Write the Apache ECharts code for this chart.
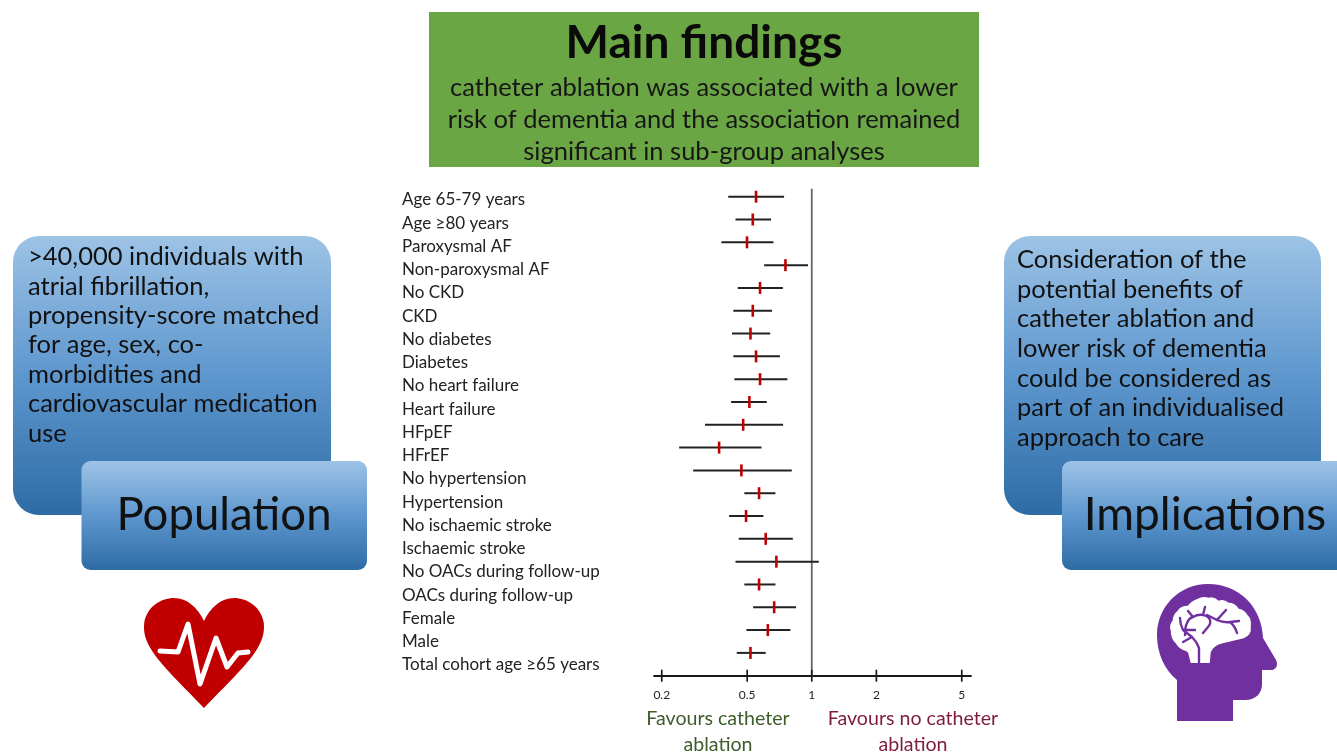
<!DOCTYPE html>
<html><head><meta charset="utf-8">
<style>html,body{margin:0;padding:0;background:#fff}#c{width:1337px;height:752px}</style>
<script src="https://cdn.jsdelivr.net/npm/echarts@6/dist/echarts.min.js"></script>
</head><body><div id="c"></div>
<script>
const categories = ['Age 65-79 years','Age ≥80 years','Paroxysmal AF','Non-paroxysmal AF','No CKD','CKD','No diabetes','Diabetes','No heart failure','Heart failure','HFpEF','HFrEF','No hypertension','Hypertension','No ischaemic stroke','Ischaemic stroke','No OACs during follow-up','OACs during follow-up','Female','Male','Total cohort age ≥65 years'];
const hrLower = [0.408,0.441,0.379,0.600,0.452,0.431,0.425,0.431,0.436,0.421,0.318,0.241,0.280,0.485,0.412,0.457,0.441,0.485,0.533,0.496,0.447];
const hrMid   = [0.550,0.531,0.499,0.754,0.574,0.531,0.518,0.550,0.574,0.512,0.479,0.370,0.470,0.568,0.494,0.610,0.684,0.568,0.668,0.624,0.518];
const hrUpper = [0.743,0.646,0.663,0.961,0.733,0.653,0.640,0.710,0.770,0.617,0.735,0.583,0.807,0.677,0.595,0.816,1.078,0.677,0.845,0.795,0.610];
const tickValues = [0.2,0.5,1,2,5];
const titleText = 'Main findings';
const findingsText = ['catheter ablation was associated with a lower','risk of dementia and the association remained','significant in sub-group analyses'];
const populationText = ['>40,000 individuals with','atrial fibrillation,','propensity-score matched','for age, sex, co-','morbidities and','cardiovascular medication','use'];
const implicationsText = ['Consideration of the','potential benefits of','catheter ablation and','lower risk of dementia','could be considered as','part of an individualised','approach to care'];
const favoursLeft = ['Favours catheter','ablation'];
const favoursRight = ['Favours no catheter','ablation'];

const FONT = 'Lato, "Noto Sans", sans-serif';
const blue = {type:'linear',x:0,y:0,x2:0,y2:1,colorStops:[{offset:0,color:'#9DC3E6'},{offset:0.5,color:'#5E97CE'},{offset:1,color:'#2E6BA5'}]};
const txt = (x,y,text,size,opt={}) => ({type:'text',x,y,silent:true,style:Object.assign({text,fill:'#111',font:`${opt.weight||'normal'} ${size}px ${FONT}`,textAlign:opt.align||'left',textVerticalAlign:'middle',lineHeight:opt.lh||size*1.2},opt.style||{})});
const lines = (x,y0,dy,arr,size,opt) => arr.map((t,i)=>txt(x,y0+i*dy,t,size,opt));

const graphics = [
  {type:'rect',shape:{x:429,y:12,width:550,height:155},style:{fill:'#6BA644'}},
  txt(704,43,titleText,46,{weight:'bold',align:'center',style:{fill:'#0a0a0a'}}),
  ...lines(704,88,32,findingsText,25.5,{align:'center',style:{fill:'#161616'}}),
  {type:'rect',shape:{x:13,y:236,width:318,height:279,r:26},style:{fill:blue}},
  ...lines(28,257,29.4,populationText,25.5),
  {type:'rect',shape:{x:81.5,y:461,width:285.5,height:109,r:9},style:{fill:blue}},
  txt(224,515,'Population',45.5,{align:'center'}),
  {type:'rect',shape:{x:1004,y:236,width:317,height:279,r:26},style:{fill:blue}},
  ...lines(1017,260,29.6,implicationsText,25.5),
  {type:'rect',shape:{x:1062,y:461,width:290,height:109,r:9},style:{fill:blue}},
  txt(1205,515,'Implications',46,{align:'center'}),
  ...lines(718,719,26,favoursLeft,19.6,{align:'center',style:{fill:'#3E5C2A'}}),
  ...lines(913,719,26,favoursRight,19.6,{align:'center',style:{fill:'#7E1C3E'}})
];
// decorative icons, drawn as paths of a coordinate-free custom series
const icon = (pathData,x,y,width,height,style) => ({type:'path',shape:{pathData,layout:'cover',x,y,width,height},style});
const icons = [
  icon('M204 708 C185 688 160 665 150 648 C144 638 143 630 144 622 C147 607 160 598 174 598 C187 598 198 608 204 621 C210 608 221 598 234 598 C248 598 261 607 264 622 C265 630 264 638 258 648 C248 665 223 688 204 708 Z',144,598,120,110,{fill:'#C00000'}),
  icon('M160 651 L178 652 L188 624 L200 684 L216 638 L227 667 L238 653 L248 652',160,624,88,60,{fill:'none',stroke:'#fff',lineWidth:5,lineCap:'round',lineJoin:'round'}),
  icon('M1177 721 L1233 721 L1233 700 L1245 700 C1256 700 1262 693 1262 684 L1262 670 L1272 670 C1277 669 1278 664 1276 660 L1263 638 C1262 608 1240 584 1208 584 C1179 584 1157 607 1157 635 C1157 654 1165 670 1177 680 Z',1157,584,120,137,{fill:'#7030A0'}),
  icon('M1190 663 L1209 663 L1210 652 Q1213 645 1222 643 L1243 638 Q1251 634 1250 627 Q1251 618 1247 615 Q1244 609 1238 608 Q1234 602 1228 602 Q1223 598 1218 600 Q1213 595 1208 597 Q1202 595 1197 598 Q1191 600 1187 605 Q1180 605 1177 610 Q1172 614 1172 620 Q1168 625 1170 630 Q1170 638 1175 643 Q1178 648 1183 650 Q1188 651 1188 655 Z',1170,597,81,66,{fill:'#fff'}),
  icon('M1199 663 L1199 648 Q1197 642 1192 637 L1183 630 Q1180 624 1180 618 M1185 635 Q1185 627 1187 623 Q1189 618 1193 617 Q1198 614 1203 615 Q1209 616 1210 620 Q1211 624 1208 627 L1203 633 M1207 615 L1217 620 Q1224 623 1230 622 L1239 621 M1230 622 Q1235 626 1237 633 M1217 620 L1226 610 M1203 615 L1205 607 M1193 617 L1188 611 M1183 630 L1195 630 M1192 637 L1183 642',1180,607,59,56,{fill:'none',stroke:'#7030A0',lineWidth:2.4,lineCap:'round',lineJoin:'round'})
];

const ciData = categories.map((c,i)=>[hrLower[i],hrMid[i],hrUpper[i],i]);
const option = {
  animation:false,
  backgroundColor:'#fff',
  textStyle:{fontFamily:FONT},
  graphic:{elements:graphics},
  grid:[
    {left:654,width:317,top:185.3,height:479,containLabel:false},
    {left:640,width:100,top:188.2,height:488.3,containLabel:false}
  ],
  xAxis:[
    {type:'log',logBase:10,min:0.184,max:5.52,gridIndex:0,position:'bottom',offset:11.6,splitLine:{show:false},minorTick:{show:false},
     axisLine:{show:true,onZero:false,lineStyle:{color:'#1a1a1a',width:1.8}},axisTick:{show:false},
     axisLabel:{customValues:tickValues,margin:13,color:'#222',fontSize:12,formatter:v=>String(v),showMinLabel:true,showMaxLabel:true}},
    {type:'value',gridIndex:1,show:false}
  ],
  yAxis:[
    {type:'category',data:categories,inverse:true,gridIndex:0,axisLine:{show:false},axisTick:{show:false},axisLabel:{show:false},splitLine:{show:false}},
    {type:'category',data:categories,inverse:true,gridIndex:1,axisLine:{show:false},axisTick:{show:false},splitLine:{show:false},
     axisLabel:{align:'left',margin:238,color:'#222',fontSize:17,interval:0,fontFamily:FONT}}
  ],
  series:[
    {name:'icons',type:'custom',coordinateSystem:'none',silent:true,z:1,data:[[0]],
     renderItem:()=>({type:'group',children:icons})},
    {name:'reference',type:'custom',xAxisIndex:0,yAxisIndex:0,z:2,silent:true,data:[[1]],
     renderItem:(p,api)=>{const a=api.coord([1,0]),b=api.coord([1,categories.length-1]),h=api.size([0,1])[1];
       return {type:'line',shape:{x1:a[0],y1:a[1]-8,x2:a[0],y2:b[1]+h},style:{stroke:'#666',lineWidth:1.8}};}},
    {name:'axis ticks',type:'custom',xAxisIndex:0,yAxisIndex:0,z:3,silent:true,data:tickValues.map(v=>[v]),
     renderItem:(p,api)=>{const last=api.coord([api.value(0),categories.length-1]),h=api.size([0,1])[1],y=last[1]+h;
       return {type:'line',shape:{x1:last[0],y1:y-6,x2:last[0],y2:y+6},style:{stroke:'#1a1a1a',lineWidth:1.7}};}},
    {name:'Hazard ratio',type:'custom',xAxisIndex:0,yAxisIndex:0,z:4,silent:true,data:ciData,
     renderItem:(p,api)=>{const i=api.value(3),lo=api.coord([api.value(0),i]),mid=api.coord([api.value(1),i]),hi=api.coord([api.value(2),i]);
       return {type:'group',children:[
         {type:'line',shape:{x1:lo[0],y1:lo[1],x2:hi[0],y2:hi[1]},style:{stroke:'#222',lineWidth:2}},
         {type:'line',shape:{x1:mid[0],y1:mid[1]-6,x2:mid[0],y2:mid[1]+6},style:{stroke:'#C00000',lineWidth:2.6}}
       ]};}}
  ]
};
const chart = echarts.init(document.getElementById('c'));
chart.setOption(option);
</script></body></html>
